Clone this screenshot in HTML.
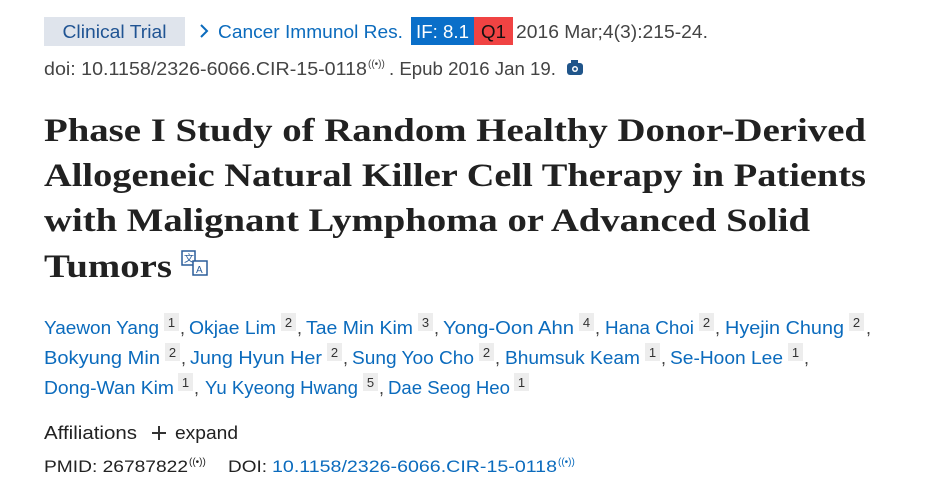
<!DOCTYPE html>
<html><head><meta charset="utf-8"><style>
html,body{margin:0;padding:0;background:#fff;width:940px;height:502px;overflow:hidden}
svg{display:block}
text{font-family:"Liberation Sans",sans-serif}
.b{fill:#0b6bbd}.d{fill:#222}.g{fill:#444}
.t{font-family:"Liberation Serif",serif;font-weight:bold;font-size:33px;fill:#212121}
.s{font-size:13px;fill:#333}
</style></head><body>
<svg width="940" height="502" viewBox="0 0 940 502">
<rect x="44" y="17" width="141" height="29" fill="#dfe4ec"/>
<text x="114.5" y="38" font-size="18" fill="#205493" text-anchor="middle" textLength="104" lengthAdjust="spacingAndGlyphs">Clinical Trial</text>
<path d="M201 25 l6 6 l-6 6" stroke="#0b6bbd" stroke-width="2" fill="none"/>
<text x="218" y="38" font-size="18" class="b" textLength="185" lengthAdjust="spacingAndGlyphs">Cancer Immunol Res.</text>
<rect x="411" y="17" width="63" height="28" fill="#0a6fc9"/>
<text x="416" y="38" font-size="18" fill="#fff" textLength="53" lengthAdjust="spacingAndGlyphs">IF: 8.1</text>
<rect x="474" y="17" width="39" height="28" fill="#f04343"/>
<text x="481" y="38" font-size="18" fill="#111" textLength="25" lengthAdjust="spacingAndGlyphs">Q1</text>
<text x="516" y="38" font-size="18" class="g" textLength="192" lengthAdjust="spacingAndGlyphs">2016 Mar;4(3):215-24.</text>
<text x="44" y="75" font-size="18" class="g" textLength="323" lengthAdjust="spacingAndGlyphs">doi: 10.1158/2326-6066.CIR-15-0118</text>
<text x="368" y="67" font-size="10" class="g">((•))</text>
<text x="389" y="75" font-size="18" class="g" textLength="167" lengthAdjust="spacingAndGlyphs">. Epub 2016 Jan 19.</text>
<rect x="567" y="63" width="16" height="12" rx="3" fill="#20558a"/><rect x="571" y="60" width="7" height="4" fill="#20558a"/><circle cx="575" cy="69" r="3" fill="#fff"/><circle cx="575" cy="69" r="1.5" fill="#20558a"/>
<text x="44" y="141" class="t" textLength="822" lengthAdjust="spacingAndGlyphs">Phase I Study of Random Healthy Donor-Derived</text>
<text x="44" y="186" class="t" textLength="822" lengthAdjust="spacingAndGlyphs">Allogeneic Natural Killer Cell Therapy in Patients</text>
<text x="44" y="231" class="t" textLength="766" lengthAdjust="spacingAndGlyphs">with Malignant Lymphoma or Advanced Solid</text>
<text x="44" y="277" class="t" textLength="128" lengthAdjust="spacingAndGlyphs">Tumors</text>
<g fill="none" stroke="#2a5d9a" stroke-width="1.5"><rect x="182" y="251" width="13" height="14"/><rect x="193" y="261" width="14" height="14" fill="#fff"/></g>
<text x="184" y="262" font-size="10" fill="#2a5d9a">文</text><text x="196" y="273" font-size="10" fill="#2a5d9a">A</text>
<g font-size="18">
<text x="44" y="334" class="b" textLength="115" lengthAdjust="spacingAndGlyphs">Yaewon Yang</text>
<text x="189" y="334" class="b" textLength="87" lengthAdjust="spacingAndGlyphs">Okjae Lim</text>
<text x="306" y="334" class="b" textLength="107" lengthAdjust="spacingAndGlyphs">Tae Min Kim</text>
<text x="443" y="334" class="b" textLength="131" lengthAdjust="spacingAndGlyphs">Yong-Oon Ahn</text>
<text x="605" y="334" class="b" textLength="89" lengthAdjust="spacingAndGlyphs">Hana Choi</text>
<text x="725" y="334" class="b" textLength="119" lengthAdjust="spacingAndGlyphs">Hyejin Chung</text>
<text x="44" y="364" class="b" textLength="116" lengthAdjust="spacingAndGlyphs">Bokyung Min</text>
<text x="190" y="364" class="b" textLength="132" lengthAdjust="spacingAndGlyphs">Jung Hyun Her</text>
<text x="352" y="364" class="b" textLength="122" lengthAdjust="spacingAndGlyphs">Sung Yoo Cho</text>
<text x="505" y="364" class="b" textLength="135" lengthAdjust="spacingAndGlyphs">Bhumsuk Keam</text>
<text x="670" y="364" class="b" textLength="113" lengthAdjust="spacingAndGlyphs">Se-Hoon Lee</text>
<text x="44" y="394" class="b" textLength="130" lengthAdjust="spacingAndGlyphs">Dong-Wan Kim</text>
<text x="205" y="394" class="b" textLength="153" lengthAdjust="spacingAndGlyphs">Yu Kyeong Hwang</text>
<text x="388" y="394" class="b" textLength="122" lengthAdjust="spacingAndGlyphs">Dae Seog Heo</text>
<g class="g"><text x="180" y="334">,</text><text x="297" y="334">,</text><text x="434" y="334">,</text><text x="595" y="334">,</text><text x="715" y="334">,</text><text x="866" y="334">,</text>
<text x="181" y="364">,</text><text x="343" y="364">,</text><text x="495" y="364">,</text><text x="661" y="364">,</text><text x="804" y="364">,</text>
<text x="194" y="394">,</text><text x="379" y="394">,</text></g>
</g>
<g fill="#ededed">
<rect x="164" y="313" width="15" height="18"/><rect x="281" y="313" width="15" height="18"/><rect x="418" y="313" width="15" height="18"/><rect x="579" y="313" width="15" height="18"/><rect x="699" y="313" width="15" height="18"/><rect x="849" y="313" width="15" height="18"/>
<rect x="165" y="343" width="15" height="18"/><rect x="327" y="343" width="15" height="18"/><rect x="479" y="343" width="15" height="18"/><rect x="645" y="343" width="15" height="18"/><rect x="788" y="343" width="15" height="18"/>
<rect x="178" y="373" width="15" height="18"/><rect x="363" y="373" width="15" height="18"/><rect x="514" y="373" width="15" height="18"/>
</g>
<g class="s" text-anchor="middle">
<text x="171.5" y="327">1</text><text x="288.5" y="327">2</text><text x="425.5" y="327">3</text><text x="586.5" y="327">4</text><text x="706.5" y="327">2</text><text x="856.5" y="327">2</text>
<text x="172.5" y="357">2</text><text x="334.5" y="357">2</text><text x="486.5" y="357">2</text><text x="652.5" y="357">1</text><text x="795.5" y="357">1</text>
<text x="185.5" y="387">1</text><text x="370.5" y="387">5</text><text x="521.5" y="387">1</text>
</g>
<text x="44" y="439" font-size="18" class="d" textLength="93" lengthAdjust="spacingAndGlyphs">Affiliations</text>
<path d="M152 433 h14 M159 426 v14" stroke="#333" stroke-width="2"/>
<text x="175" y="439" font-size="18" class="d" textLength="63" lengthAdjust="spacingAndGlyphs">expand</text>
<text x="44" y="472" font-size="17" class="d" textLength="144" lengthAdjust="spacingAndGlyphs">PMID: 26787822</text>
<text x="189" y="465" font-size="10" class="d">((•))</text>
<text x="228" y="472" font-size="17" class="d" textLength="39" lengthAdjust="spacingAndGlyphs">DOI:</text>
<text x="272" y="472" font-size="17" class="b" textLength="285" lengthAdjust="spacingAndGlyphs">10.1158/2326-6066.CIR-15-0118</text>
<text x="558" y="465" font-size="10" class="b">((•))</text>
</svg>
</body></html>
